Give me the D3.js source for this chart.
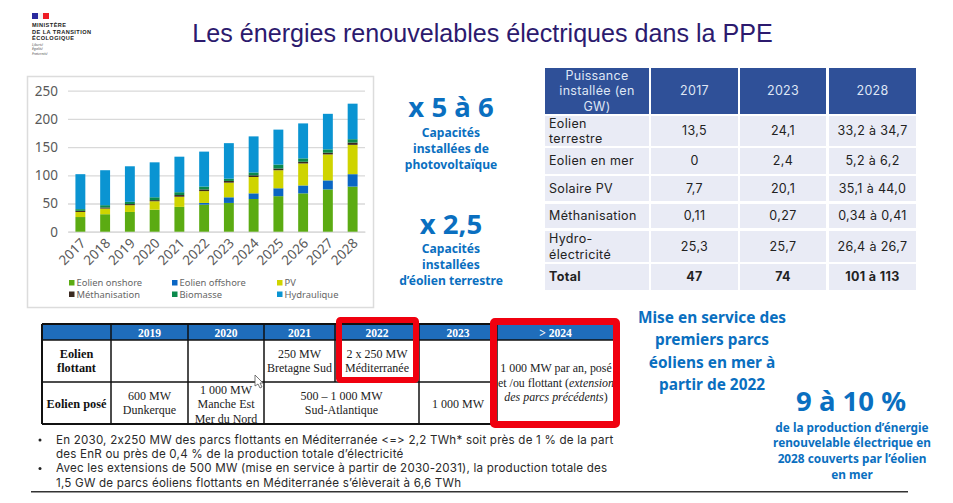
<!DOCTYPE html>
<html>
<head>
<meta charset="utf-8">
<script src="https://cdn.jsdelivr.net/npm/d3@7"></script>
<style>
  html, body { margin: 0; padding: 0; background: #fff; }
  svg { display: block; }
  text { font-family: "Noto Sans", sans-serif; }
</style>
</head>
<body>
<svg></svg>
<script>
// chart data
let years = ["2017", "2018", "2019", "2020", "2021", "2022", "2023", "2024", "2025", "2026", "2027", "2028"];
let eolienOnshore = [26, 31, 35, 39, 44, 48, 51, 58, 63, 68, 75, 80];
let eolienOffshore = [0, 0, 0, 0, 0, 3, 10, 10, 14, 14, 16, 22];
let pv = [9, 10, 12, 15, 18, 21, 26, 29, 32, 39, 46, 52];
let methanisation = [2, 2, 2, 2, 3, 3, 3, 3, 3, 3, 3, 4];
let biomasse = [3, 4, 4, 5, 5, 5, 4, 5, 7, 6, 6, 6];
let hydraulique = [62, 62, 63, 62, 63, 62, 63, 64, 62, 62, 63, 63];
let yTicks = [0, 50, 100, 150, 200, 250];
let seriesNames = ["Eolien onshore", "Eolien offshore", "PV", "Méthanisation", "Biomasse", "Hydraulique"];
let seriesValues = [eolienOnshore, eolienOffshore, pv, methanisation, biomasse, hydraulique];
let seriesColors = ["#5bab12", "#0a66c4", "#cfd400", "#3b2a20", "#0b8a4c", "#0a94d2"];

// right table
let powerHeader = ["Puissance\ninstallée (en\nGW)", "2017", "2023", "2028"];
let powerRows = [
  ["Eolien\nterrestre", "13,5", "24,1", "33,2 à 34,7"],
  ["Eolien en mer", "0", "2,4", "5,2 à 6,2"],
  ["Solaire PV", "7,7", "20,1", "35,1 à 44,0"],
  ["Méthanisation", "0,11", "0,27", "0,34 à 0,41"],
  ["Hydro-\nélectricité", "25,3", "25,7", "26,4 à 26,7"],
  ["Total", "47", "74", "101 à 113"]
];

// bottom table
let planHeader = ["", "2019", "2020", "2021", "2022", "2023", "> 2024"];
let planFlottant = ["Eolien\nflottant", "", "", "250 MW\nBretagne Sud", "2 x 250 MW\nMéditerranée"];
let planPose = ["Eolien posé", "600 MW\nDunkerque", "1 000 MW\nManche Est\nMer du Nord", "500 – 1 000 MW\nSud-Atlantique", "1 000 MW"];

let notes = [
  "En 2030, 2x250 MW des parcs flottants en Méditerranée <=> 2,2 TWh* soit près de 1 % de la part",
  "des EnR ou près de 0,4 % de la production totale d’électricité",
  "Avec les extensions de 500 MW (mise en service à partir de 2030-2031), la production totale des",
  "1,5 GW de parcs éoliens flottants en Méditerranée s’élèverait à 6,6 TWh"
];

let width = 953;
let height = 503;
let svg = d3.select("svg").attr("width", width).attr("height", height);

function multiline(x, y, str, lineHeight, opts) {
  let t = svg.append("text")
    .attr("x", x)
    .attr("y", y)
    .attr("text-anchor", opts.anchor || "middle")
    .attr("fill", opts.fill || "#222")
    .style("font-family", opts.font || "'Noto Sans', sans-serif")
    .style("font-size", opts.size + "px")
    .style("font-weight", opts.weight || "normal")
    .style("letter-spacing", (opts.spacing || 0) + "px")
  let lines = str.split("\n");
  // block is centred on y
  lines.forEach((line, i) => {
    t.append("tspan")
      .attr("x", x)
      .attr("y", y + (i - (lines.length - 1) / 2) * lineHeight + opts.size * 0.35)
      .text(line)
  })
  return t;
}

// logo
svg.append("rect").attr("x", 32).attr("y", 13).attr("width", 6).attr("height", 6).attr("fill", "#2a2a9e");
svg.append("rect").attr("x", 38).attr("y", 13).attr("width", 5).attr("height", 6).attr("fill", "#f4f4f4");
svg.append("rect").attr("x", 43).attr("y", 13).attr("width", 6).attr("height", 6).attr("fill", "#ee1c25");
svg.append("text").attr("x", 32).attr("y", 27).attr("fill", "#222")
  .style("font-family", "'Liberation Sans', sans-serif").style("font-size", "5.6px").style("font-weight", "bold")
  .style("letter-spacing", "0.45px")
  .selectAll("tspan")
  .data(["MINISTÈRE", "DE LA TRANSITION", "ÉCOLOGIQUE"])
  .enter()
  .append("tspan")
  .attr("x", 32)
  .attr("y", (d, i) => 27 + i * 6.6)
  .text(d => d)
svg.append("text").attr("fill", "#555")
  .style("font-size", "3.6px").style("font-style", "italic")
  .selectAll("tspan")
  .data(["Liberté", "Égalité", "Fraternité"])
  .enter()
  .append("tspan")
  .attr("x", 32)
  .attr("y", (d, i) => 46 + i * 4.3)
  .text(d => d)

// title
svg.append("text")
  .attr("x", 482.5)
  .attr("y", 42)
  .attr("text-anchor", "middle")
  .attr("fill", "#2c1a6e")
  .style("font-family", "'Liberation Sans', sans-serif")
  .style("font-size", "25.1px")
  .text("Les énergies renouvelables électriques dans la PPE")

// bar chart
svg.append("rect")
  .attr("x", 27.5).attr("y", 76.5).attr("width", 346).attr("height", 231)
  .attr("fill", "#fff").attr("stroke", "#dcdcdc").attr("stroke-width", 1.5)

let xScale = d3.scaleBand()
  .domain(years)
  .range([68, 365])
  .paddingInner(0.6)
  .paddingOuter(0.3)

let yScale = d3.scaleLinear()
  .domain([0, 250])
  .range([231.7, 90.7])

let yAxis = d3.axisLeft(yScale)
  .tickValues(yTicks)
  .tickSize(-297)
  .tickPadding(10)

let yG = svg.append("g").attr("transform", "translate(68, 0)").call(yAxis)
yG.select(".domain").remove()
yG.selectAll("line").attr("stroke", "#d9d9d9").attr("stroke-width", 1.3)
yG.selectAll("text").attr("fill", "#595959").style("font-size", "13.5px").style("font-family", "'Noto Sans', sans-serif")

let xAxis = d3.axisBottom(xScale).tickSize(0).tickPadding(8)
let xG = svg.append("g").attr("transform", "translate(0, 231.7)").call(xAxis)
xG.select(".domain").attr("stroke", "#d9d9d9").attr("stroke-width", 1.3)
xG.selectAll("text")
  .attr("fill", "#595959")
  .style("font-size", "13.5px")
  .style("font-family", "'Noto Sans', sans-serif")
  .attr("text-anchor", "end")
  .attr("dx", "-4.5px")
  .attr("dy", "5px")
  .attr("transform", "rotate(-45)")

let table = years.map((y, i) => {
  let row = { year: y };
  seriesNames.forEach((s, j) => { row[s] = seriesValues[j][i]; });
  return row;
});

let stacked = d3.stack().keys(seriesNames)(table);

svg.append("g")
  .selectAll("g")
  .data(stacked)
  .enter()
  .append("g")
  .attr("fill", (d, i) => seriesColors[i])
  .selectAll("rect")
  .data(d => d)
  .enter()
  .append("rect")
  .attr("x", d => xScale(d.data.year))
  .attr("width", xScale.bandwidth())
  .attr("y", d => yScale(d[1]))
  .attr("height", d => yScale(d[0]) - yScale(d[1]))

// legend
let legendX = [69, 172, 277];
let legendY = [283, 294.5];
seriesNames.forEach((name, i) => {
  let lx = legendX[i % 3];
  let ly = legendY[Math.floor(i / 3)];
  svg.append("rect").attr("x", lx).attr("y", ly - 3).attr("width", 5.5).attr("height", 5.5).attr("fill", seriesColors[i]);
  svg.append("text").attr("x", lx + 7.5).attr("y", ly + 3).attr("fill", "#666")
    .style("font-size", "9.4px").text(name);
});

// headline figures
let blue = "#0a6fc0";
multiline(451, 107, "x 5 à 6", 0, { size: 27.5, weight: "bold", fill: blue });
multiline(451, 149, "Capacités\ninstallées de\nphotovoltaïque", 16, { size: 12.1, weight: "bold", fill: blue });
multiline(451, 224, "x 2,5", 0, { size: 27.5, weight: "bold", fill: blue });
multiline(451, 265, "Capacités\ninstallées\nd’éolien terrestre", 16, { size: 12.1, weight: "bold", fill: blue });

// installed power table
let inter = "Inter, sans-serif";
let colLeft = [545, 651, 740, 829];
let colRight = [649, 738, 826, 916];
let rowTop = [116, 148, 176, 204, 231, 264];
let rowBottom = [146, 174, 201, 228, 262, 290];

powerHeader.forEach((h, c) => {
  svg.append("rect").attr("x", colLeft[c]).attr("y", 68).attr("width", colRight[c] - colLeft[c]).attr("height", 46).attr("fill", "#2f5098");
  multiline((colLeft[c] + colRight[c]) / 2, 91, h, 15.3, { size: 12.5, fill: "#dfe6f5", font: inter, spacing: 0.3 });
});
powerRows.forEach((row, r) => {
  row.forEach((cell, c) => {
    svg.append("rect")
      .attr("x", colLeft[c]).attr("y", rowTop[r])
      .attr("width", colRight[c] - colLeft[c]).attr("height", rowBottom[r] - rowTop[r])
      .attr("fill", "#e9ebf5")
    let midY = (rowTop[r] + rowBottom[r]) / 2;
    let bold = r === powerRows.length - 1 ? "bold" : "normal";
    if (c === 0) {
      multiline(colLeft[c] + 4, midY, cell, 15.3, { size: 12.5, anchor: "start", weight: bold, font: inter, spacing: 0.35 });
    } else {
      multiline((colLeft[c] + colRight[c]) / 2, midY, cell, 15.3, { size: 12.5, weight: bold, font: inter, spacing: 0.35 });
    }
  })
});

// deployment table
let serif = "'Liberation Serif', serif";
let planX = [42, 111, 188, 264, 335, 419, 497, 614];
let planY = [324, 340, 382, 424];

svg.append("rect").attr("x", planX[0]).attr("y", planY[0]).attr("width", planX[7] - planX[0]).attr("height", planY[1] - planY[0]).attr("fill", "#1f6dbb");

// table grid
let gridLine = (x1, y1, x2, y2, w) => svg.append("line")
  .attr("x1", x1).attr("y1", y1).attr("x2", x2).attr("y2", y2)
  .attr("stroke", "#111").attr("stroke-width", w);
gridLine(42, 324, 614, 324, 2);
gridLine(42, 340, 614, 340, 1.5);
gridLine(42, 382, 497, 382, 1.5);
gridLine(42, 424, 614, 424, 2);
planX.forEach(x => gridLine(x, 324, x, x === 335 ? 382 : 424, x === 42 || x === 614 ? 2 : 1.5));

planHeader.forEach((h, i) => {
  multiline((planX[i] + planX[i + 1]) / 2, 333, h, 0, { size: 11.6, weight: "bold", fill: "#fff", font: serif });
});

let bx = (i, j) => (planX[i] + planX[j]) / 2;
multiline(bx(0, 1), 361, planFlottant[0], 14, { size: 12.3, weight: "bold", font: serif, fill: "#111" });
multiline(bx(3, 4), 361, planFlottant[3], 14, { size: 12, font: serif });
multiline(bx(4, 5), 361, planFlottant[4], 14, { size: 12, font: serif });
multiline(bx(0, 1), 404, planPose[0], 14, { size: 12.3, weight: "bold", font: serif, fill: "#111" });
multiline(bx(1, 2), 403, planPose[1], 14.5, { size: 12, font: serif });
multiline(bx(2, 3), 404, planPose[2], 14.5, { size: 12, font: serif });
multiline(bx(3, 5), 403, planPose[3], 14.5, { size: 12, font: serif });
multiline(bx(5, 6), 404, planPose[4], 14, { size: 12, font: serif });

// last cell mixes roman and italic
let lastCell = svg.append("text").attr("text-anchor", "middle").attr("fill", "#222")
  .style("font-family", serif).style("font-size", "11.9px");
lastCell.append("tspan").attr("x", 556).attr("y", 372).text("1 000 MW par an, posé");
lastCell.append("tspan").attr("x", 556).attr("y", 387).text("et /ou flottant (");
lastCell.append("tspan").style("font-style", "italic").text("extension");
lastCell.append("tspan").attr("x", 556).attr("y", 401).style("font-style", "italic").text("des parcs précédents");
lastCell.append("tspan").text(")");

// red boxes on top
[[336, 317, 83, 66, 6], [490, 318, 130, 110, 7]].forEach(b => {
  svg.append("rect")
    .attr("x", b[0] + b[4] / 2).attr("y", b[1] + b[4] / 2)
    .attr("width", b[2] - b[4]).attr("height", b[3] - b[4])
    .attr("rx", 1.5)
    .attr("fill", "none").attr("stroke", "#f0000f").attr("stroke-width", b[4])
});

// mouse cursor
svg.append("path")
  .attr("d", "M255 375 L255 386 L258 384 L260 388 L262 387 L260 383 L263 383 Z")
  .attr("fill", "#fff").attr("stroke", "#555").attr("stroke-width", 0.8)

// notes
svg.append("text").attr("fill", "#2a2a2a")
  .style("font-family", inter)
  .style("font-size", "11.6px")
  .style("font-feature-settings", "'calt' 0, 'liga' 0")
  .style("letter-spacing", "0.21px")
  .selectAll("tspan")
  .data(notes)
  .enter()
  .append("tspan")
  .attr("x", 56)
  .attr("y", (d, i) => 444 + i * 14.2)
  .text(d => d)
;[0, 2].forEach(i => {
  svg.append("circle").attr("cx", 40).attr("cy", 440 + i * 14.2).attr("r", 1.5).attr("fill", "#222")
});
svg.append("rect").attr("x", 31).attr("y", 491).attr("width", 877).attr("height", 1.5).attr("fill", "#333");

// right side call-outs
multiline(712, 351, "Mise en service des\npremiers parcs\néoliens en mer à\npartir de 2022", 22.4, { size: 15.4, weight: "bold", fill: blue });
multiline(851, 401, "9 à 10 %", 0, { size: 27.5, weight: "bold", fill: blue });
multiline(852, 451, "de la production d’énergie\nrenouvelable électrique en\n2028 couverts par l’éolien\nen mer", 15.7, { size: 11.8, weight: "bold", fill: blue });
</script>
</body>
</html>
